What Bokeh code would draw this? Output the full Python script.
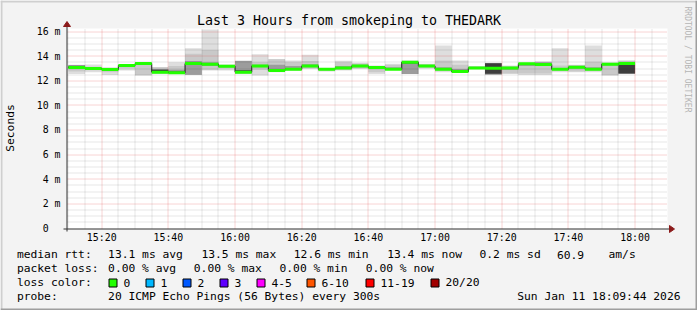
import numpy as np
from bokeh.plotting import figure
from bokeh.models import Range1d, ColumnDataSource
from bokeh.core.properties import value
from bokeh.embed import file_html
from bokeh.resources import INLINE

# ---------------- data ----------------
title_text = "Last 3 Hours from smokeping to THEDARK"
window_start = "15:09:44"
window_end = "18:09:44"
step_minutes = 5

bar_end = ["15:15", "15:20", "15:25", "15:30", "15:35", "15:40", "15:45", "15:50", "15:55", "16:00",
           "16:05", "16:10", "16:15", "16:20", "16:25", "16:30", "16:35", "16:40", "16:45", "16:50",
           "16:55", "17:00", "17:05", "17:10", "17:15", "17:20", "17:25", "17:30", "17:35", "17:40",
           "17:45", "17:50", "17:55", "18:00"]

median = [13.08, 13.00, 12.92, 13.24, 13.40, 12.70, 12.65, 13.40, 13.35, 13.19,
          12.70, 13.20, 12.83, 12.94, 13.20, 12.94, 13.05, 13.20, 13.08, 12.94,
          13.50, 13.20, 12.94, 12.75, 13.05, 13.03, 13.05, 13.38, 13.32, 12.94,
          13.10, 12.94, 13.35, 13.40]

smoke_min = [12.56, 12.70, 12.48, 12.84, 12.43, 12.56, 12.56, 12.48, 12.84, 12.84,
             12.56, 12.43, 12.70, 12.84, 12.97, 12.75, 12.84, 12.97, 12.56, 12.90,
             12.56, 12.97, 12.70, 12.65, 12.97, 12.48, 12.56, 12.48, 12.48, 12.70,
             12.70, 12.70, 12.43, 12.56]
smoke_max = [13.30, 13.32, 13.11, 13.32, 13.51, 13.13, 13.51, 14.65, 16.17, 13.30,
             13.62, 14.16, 13.78, 13.65, 14.11, 13.02, 13.62, 13.46, 13.24, 13.38,
             13.65, 13.38, 14.87, 13.65, 13.19, 13.46, 13.24, 13.46, 13.57, 14.65,
             13.30, 14.87, 13.51, 13.67]

band2_lo = [12.75, 12.85, 12.70, 13.00, 12.45, 12.60, 12.60, 12.50, 12.90, 13.00,
            12.60, 12.90, 12.80, 12.85, 13.00, 12.80, 12.90, 13.00, 12.70, 12.92,
            12.56, 13.05, 12.80, 12.70, 13.00, 12.50, 12.60, 12.60, 12.60, 12.80,
            12.75, 12.80, 12.45, 12.58]
band2_hi = [13.26, 13.15, 13.00, 13.30, 13.42, 13.10, 13.20, 14.20, 14.50, 13.30,
            13.62, 13.50, 13.75, 13.50, 13.60, 13.00, 13.50, 13.40, 13.20, 13.30,
            13.60, 13.35, 13.65, 13.30, 13.18, 13.45, 13.20, 13.42, 13.55, 13.24,
            13.28, 13.55, 13.40, 13.60]

band3_lo = [12.95, 12.95, 12.85, 13.15, 13.30, 12.70, 12.62, 12.50, 13.20, 13.10,
            12.70, 13.10, 12.82, 12.90, 13.10, 12.88, 12.98, 13.10, 12.95, 12.92,
            12.56, 13.15, 12.90, 12.72, 13.02, 12.52, 12.90, 13.20, 13.25, 12.90,
            12.98, 12.90, 13.25, 12.58]
band3_hi = [13.25, 13.05, 12.97, 13.28, 13.42, 12.95, 12.90, 13.60, 13.50, 13.25,
            13.60, 13.30, 13.30, 13.20, 13.35, 12.98, 13.20, 13.30, 13.15, 13.10,
            13.46, 13.28, 13.10, 12.95, 13.12, 13.43, 13.10, 13.40, 13.50, 13.05,
            13.20, 13.10, 13.38, 13.40]

band4_lo = [13.05, 12.98, 12.90, 13.20, 13.36, 12.72, 12.64, 13.30, 13.30, 13.15,
            12.70, 13.18, 12.82, 12.92, 13.18, 12.92, 13.02, 13.18, 13.05, 12.93,
            13.40, 13.18, 12.92, 12.73, 13.03, 12.58, 13.03, 13.35, 13.30, 12.92,
            13.07, 12.92, 13.30, 12.60]
band4_hi = [13.22, 13.02, 12.94, 13.27, 13.42, 12.90, 12.75, 13.45, 13.40, 13.22,
            12.86, 13.24, 12.90, 13.00, 13.25, 12.96, 13.08, 13.24, 13.12, 12.97,
            13.52, 13.24, 12.97, 12.80, 13.08, 13.42, 13.08, 13.40, 13.35, 12.98,
            13.13, 12.98, 13.38, 13.34]

x_tick_labels = ["15:20", "15:40", "16:00", "16:20", "16:40", "17:00", "17:20", "17:40", "18:00"]
y_ticks = [0, 2, 4, 6, 8, 10, 12, 14, 16]
y_tick_labels = ["0", "2 m", "4 m", "6 m", "8 m", "10 m", "12 m", "14 m", "16 m"]
y_max = 16.25
y_label = "Seconds"
side_note = "RRDTOOL / TOBI OETIKER"

legend_row1 = ["median rtt:", "13.1 ms avg", "13.5 ms max", "12.6 ms min", "13.4 ms now", "0.2 ms sd", "60.9", "am/s"]
legend_row2 = ["packet loss:", "0.00 % avg", "0.00 % max", "0.00 % min", "0.00 % now"]
loss_title = "loss color:"
loss_labels = ["0", "1", "2", "3", "4-5", "6-10", "11-19", "20/20"]
loss_colors = ["#22ff00", "#00b8ff", "#0059ff", "#5e00ff", "#ff00ff", "#ff5500", "#ff0000", "#a10000"]
probe_title = "probe:"
probe_text = "20 ICMP Echo Pings (56 Bytes) every 300s"
stamp_text = "Sun Jan 11 18:09:44 2026"

# ---------------- geometry helpers (page pixels <-> data) ----------------
def tmin(s):
    parts = [int(v) for v in s.split(":")]
    while len(parts) < 3:
        parts.append(0)
    return parts[0] * 60 + parts[1] + parts[2] / 60.0

t0, t1 = tmin(window_start), tmin(window_end)
rights = [tmin(s) for s in bar_end]
lefts = [max(r - step_minutes, t0) for r in rights]

W, H = 697, 310
PL, PR, PT, PB = 67, 667, 28, 228   # page pixel box of the graph canvas
TS = 3.7                             # baseline correction for text glyphs

def X(px):
    return t0 + (px - PL) / (PR - PL) * (t1 - t0)

def Y(py):
    return (PB - py) / (PB - PT) * y_max

def PXof(t):
    return PL + (t - t0) / (t1 - t0) * (PR - PL)

def PYof(v):
    return PB - v / y_max * (PB - PT)

FONT = "DejaVu Sans Mono"

p = figure(width=W, height=H, x_range=Range1d(X(0), X(W)), y_range=Range1d(Y(H), Y(0)),
           output_backend="svg", toolbar_location=None, min_border=0,
           x_axis_location=None, y_axis_location=None)
p.background_fill_color = "#f3f3f3"
p.border_fill_color = "#f3f3f3"
p.outline_line_color = None
p.xgrid.visible = False
p.ygrid.visible = False

# outer 3D frame
p.quad(left=[X(0), X(0)], right=[X(W), X(2)], top=[Y(0), Y(0)], bottom=[Y(2), Y(H)],
       fill_color="#cfcfcf", line_color=None)
p.quad(left=[X(0), X(W - 2)], right=[X(W), X(W)], top=[Y(H - 2), Y(0)], bottom=[Y(H), Y(H)],
       fill_color="#9e9e9e", line_color=None)

# white graph canvas
p.quad(left=[t0], right=[t1], bottom=[0], top=[y_max], fill_color="#ffffff", line_color=None)

# smoke layers
src = ColumnDataSource(dict(left=lefts, right=rights, median=median,
                            smin=smoke_min, smax=smoke_max,
                            b2l=band2_lo, b2h=band2_hi, b3l=band3_lo, b3h=band3_hi,
                            b4l=band4_lo, b4h=band4_hi))
for lo, hi, col in (("smin", "smax", "#dedede"), ("b2l", "b2h", "#c9c9c9"),
                    ("b3l", "b3h", "#9c9c9c"), ("b4l", "b4h", "#3d3d3d")):
    p.quad(left="left", right="right", bottom=lo, top=hi, source=src,
           fill_color=col, line_color=None)

# grid (dotted, drawn over the smoke)
x_major = [tmin(s) for s in x_tick_labels]
x_minor = [m for m in np.arange(np.ceil(t0 / 5) * 5, t1, 5) if min(abs(m - v) for v in x_major) > 1e-6]
y_minor = [v for v in np.arange(0.5, y_max, 0.5) if v not in y_ticks]

def crisp_x(t):
    return X(np.floor(PXof(t)) + 0.5)

def crisp_y(v):
    return Y(np.floor(PYof(v)) + 0.5)

xm = [crisp_x(t) for t in x_minor]
p.segment(x0=xm, x1=xm, y0=[0] * len(xm), y1=[y_max] * len(xm),
          line_color="#000000", line_alpha=0.2, line_width=1, line_dash="1 1")
ym = [crisp_y(v) for v in y_minor]
p.segment(x0=[t0] * len(ym), x1=[t1] * len(ym), y0=ym, y1=ym,
          line_color="#000000", line_alpha=0.2, line_width=1, line_dash="1 1")
xM = [crisp_x(t) for t in x_major]
p.segment(x0=xM, x1=xM, y0=[0] * len(xM), y1=[y_max] * len(xM),
          line_color="#e04040", line_alpha=0.45, line_width=1, line_dash="1 1")
yM = [crisp_y(v) for v in y_ticks if v > 0]
p.segment(x0=[t0] * len(yM), x1=[t1] * len(yM), y0=yM, y1=yM,
          line_color="#e04040", line_alpha=0.45, line_width=1, line_dash="1 1")

# median: dark step line + green per-interval segments
p.step(x=lefts + [rights[-1]], y=median + [median[-1]], mode="after",
       line_color="#202020", line_width=1)
p.segment(x0="left", x1="right", y0="median", y1="median", source=src,
          line_color=loss_colors[0], line_width=3)

# axes with arrows
AXC = "#333333"
HEAD = "#8b1a1a"
ax_x = X(PL - 0.5)
ax_y = Y(PB + 0.5)
p.segment(x0=[ax_x], x1=[ax_x], y0=[Y(PB + 3)], y1=[Y(PT - 4)], line_color=AXC, line_width=1)
p.segment(x0=[X(PL - 4)], x1=[X(PR + 4)], y0=[ax_y], y1=[ax_y], line_color=AXC, line_width=1)
p.patch(x=[X(PL - 4), X(PL - 0.5), X(PL + 3)], y=[Y(PT - 2), Y(PT - 7), Y(PT - 2)],
        fill_color=HEAD, line_color=HEAD, line_width=1)
p.patch(x=[X(PR + 2), X(PR + 7), X(PR + 2)], y=[Y(PB - 3), Y(PB + 0.5), Y(PB + 4)],
        fill_color=HEAD, line_color=HEAD, line_width=1)

# tick labels
p.text(x=[t0] * len(y_ticks), y=[Y(PYof(v) + 3.6 - TS) for v in y_ticks],
       x_offset=-7, text=[s if " " in s else s + "\u00a0\u00a0" for s in y_tick_labels],
       text_font=value(FONT), text_font_size=value("9.9px"), text_align="right",
       text_baseline="alphabetic", text_color="#000000")
p.text(x=x_major, y=[Y(240.5 - TS)] * len(x_major), text=x_tick_labels,
       text_font=value(FONT), text_font_size=value("9.9px"), text_align="center",
       text_baseline="alphabetic", text_color="#000000")

# title, axis label, side note
p.text(x=[X(W / 2)], y=[Y(24 - TS)], text=[title_text], text_font=value(FONT),
       text_font_size=value("13.3px"), text_align="center", text_baseline="alphabetic",
       text_color="#000000")
p.text(x=[X(14 - TS)], y=[Y(127.5)], text=[y_label], angle=np.pi / 2, text_font=value(FONT),
       text_font_size=value("11.3px"), text_align="center", text_baseline="alphabetic",
       text_color="#000000")
p.text(x=[X(686.5)], y=[Y(59)], text=[side_note], angle=-np.pi / 2, text_font=value(FONT),
       text_font_size=value("8px"), text_align="center", text_baseline="middle",
       text_color="#b5b5b5")

# legend
row1_x = [16.4, 107.6, 200.9, 293.3, 386.7, 479.0, 556.4, 608.0]
row2_x = [16.4, 107.6, 193.3, 279.0, 365.3]
swatch_x = [108.5, 145.5, 182.5, 219.5, 256.5, 306.5, 365.5, 430.5]
lx, ly, lt = [], [], []
for txt, xx in zip(legend_row1, row1_x):
    lx.append(X(xx)); ly.append(Y(258 - TS)); lt.append(txt)
for txt, xx in zip(legend_row2, row2_x):
    lx.append(X(xx)); ly.append(Y(272 - TS)); lt.append(txt)
lx.append(X(16.4)); ly.append(Y(286 - TS)); lt.append(loss_title)
for txt, sx in zip(loss_labels, swatch_x):
    lx.append(X(sx + 14.5)); ly.append(Y(286 - TS)); lt.append(txt)
lx += [X(16.4), X(107.6)]; ly += [Y(300 - TS), Y(300 - TS)]; lt += [probe_title, probe_text]
p.text(x=lx, y=ly, text=lt, text_font=value(FONT), text_font_size=value("11.3px"),
       text_align="left", text_baseline="alphabetic", text_color="#000000")
p.text(x=[X(680)], y=[Y(300 - TS)], text=[stamp_text], text_font=value(FONT),
       text_font_size=value("11.3px"), text_align="right", text_baseline="alphabetic",
       text_color="#000000")
p.quad(left=[X(sx) for sx in swatch_x], right=[X(sx + 8) for sx in swatch_x],
       top=[Y(278.5)] * len(swatch_x), bottom=[Y(286.5)] * len(swatch_x),
       fill_color=loss_colors, line_color="#000000", line_width=1)

open("out.html", "w").write(file_html(p, INLINE))
